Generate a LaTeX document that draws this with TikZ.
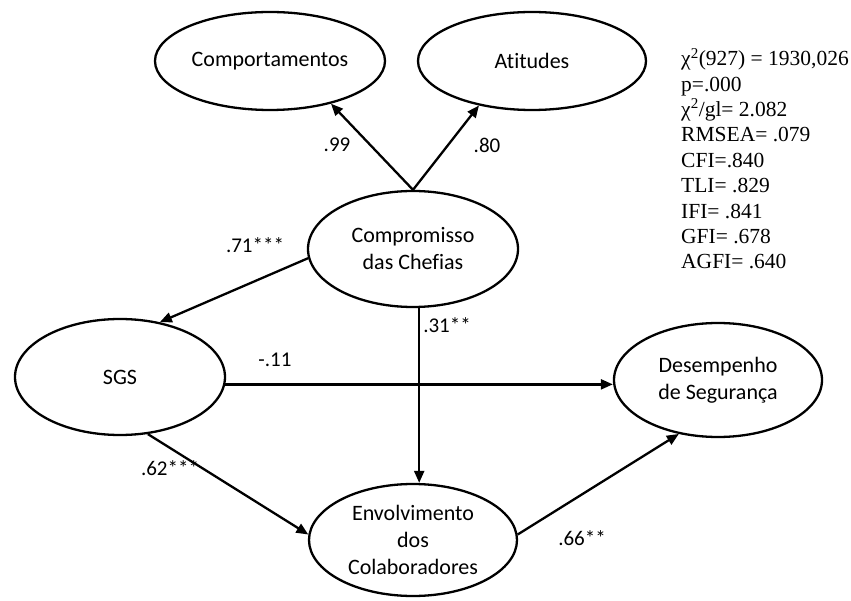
\documentclass[tikz,border=0pt]{standalone}
\usepackage{fontspec}
\setmainfont{Carlito}[Ligatures={NoCommon}]
\newfontfamily\statfont{Liberation Serif}
\usetikzlibrary{arrows.meta,shapes.geometric,calc}
\begin{document}
\begin{tikzpicture}[x=1pt,y=-1pt,
  latent/.style={draw,ellipse,line width=2.3pt,inner sep=0pt,align=center,
    font=\fontsize{22}{27}\selectfont},
  arr/.style={line width=2.3pt,-{Triangle[length=12pt,width=10pt]}},
  lbl/.style={font=\fontsize{21}{25}\selectfont,inner sep=0pt}]
\useasboundingbox (0,0) rectangle (851,601);
\node[latent,minimum width=230pt,minimum height=98pt] (comp) at (270,61) {Comportamentos};
\node[latent,minimum width=228pt,minimum height=98pt] (atit) at (532,61) {Atitudes};
\node[latent,minimum width=210pt,minimum height=116pt] (chef) at (413,249) {Compromisso\\das Chefias};
\node[latent,minimum width=210pt,minimum height=116pt] (sgs) at (120,377) {SGS};
\node[latent,minimum width=208pt,minimum height=114pt] (des) at (718,380) {Desempenho\\de Segurança};
\node[latent,minimum width=208pt,minimum height=112pt] (env) at (413,540) {Envolvimento\\dos\\Colaboradores};

\draw[arr] (chef.north) -- (comp.-35);
\draw[arr] (chef.north) -- (atit.-140);
\draw[arr] (chef.185) -- (sgs.54);
\draw[arr] (sgs.-4) -- (sgs.-4 -| des.west);
\draw[arr] (chef.-84) -- (chef.-84 |- env.north);
\draw[arr] (sgs.-64) -- (env.177);
\draw[arr] (env.3) -- (des.-126);

\node[lbl] (l99) at (337,145) {.99};
\node[lbl] (l80) at (487,145) {.80};
\node[lbl] (l71) at (255,245) {.71***};
\node[lbl] (l11) at (275,360) {-.11};
\node[lbl] (l31) at (447,325) {.31**};
\node[lbl] (l62) at (170,468) {.62***};
\node[lbl] (l66) at (582,538) {.66**};

\node[anchor=north west,align=left,inner sep=0pt,
  font=\statfont\fontsize{21.5}{25.4}\selectfont] (stats) at (681,48)
  {χ\textsuperscript{2}(927) = 1930,026\\
   p=.000\\
   χ\textsuperscript{2}/gl= 2.082\\
   RMSEA= .079\\
   CFI=.840\\
   TLI= .829\\
   IFI= .841\\
   GFI= .678\\
   AGFI= .640};
\end{tikzpicture}
\end{document}
